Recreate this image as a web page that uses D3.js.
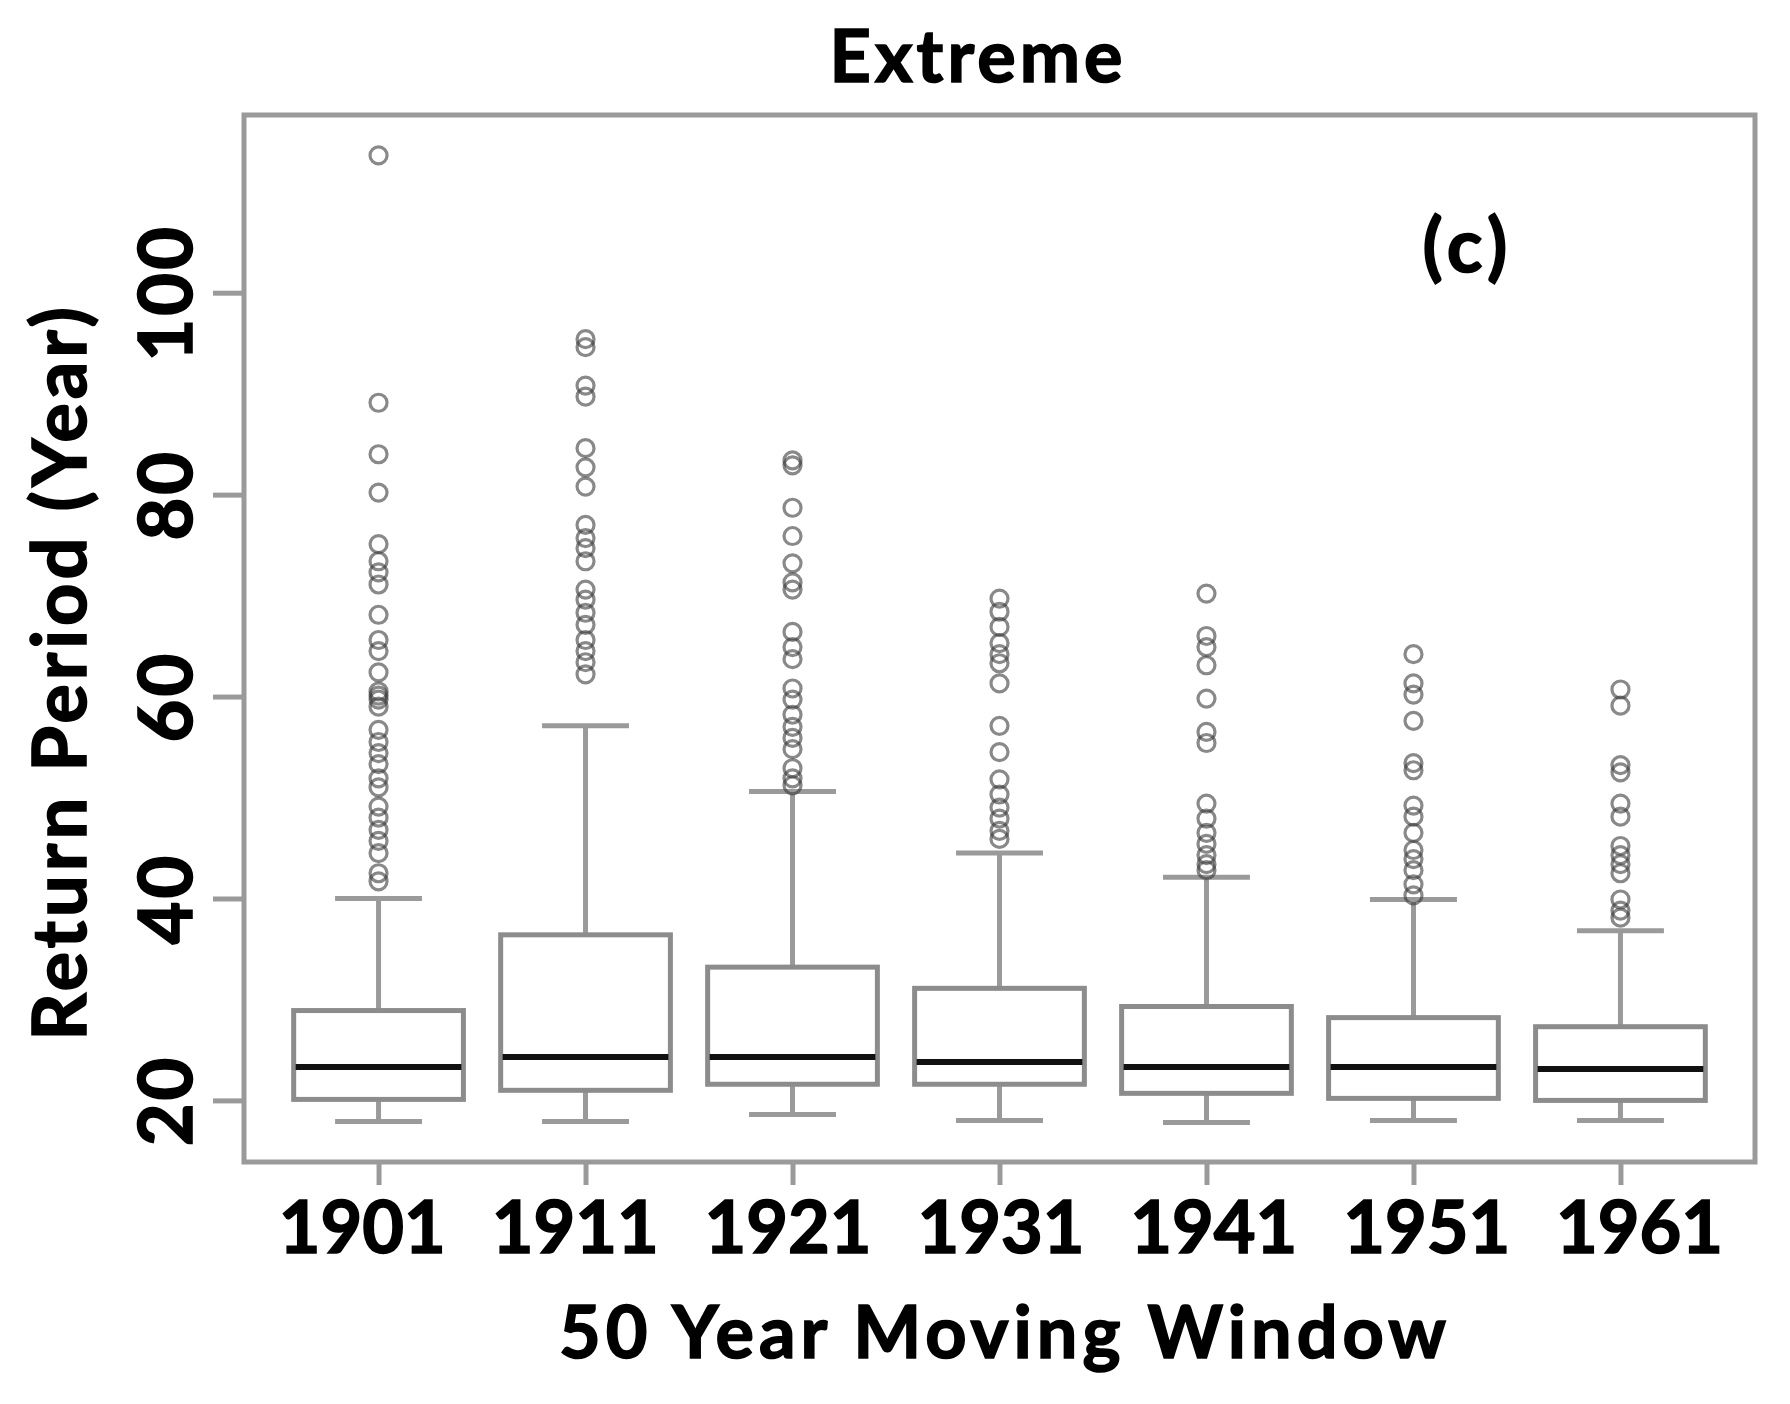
<!DOCTYPE html>
<html>
<head>
<meta charset="utf-8">
<script src="https://cdn.jsdelivr.net/npm/d3@7"></script>
<style>
  html, body { margin: 0; padding: 0; background: #fff; }
  svg text { font-family: Lato, "Open Sans", sans-serif; font-weight: 700; fill: #000; stroke: #000; stroke-width: 1.6px; }
</style>
</head>
<body>
<svg id="chart" width="1790" height="1404"></svg>
<script>
// 50-year moving windows (start year)
const windows = ['1901', '1911', '1921', '1931', '1941', '1951', '1961'];

// box statistics (return period, years)
const lowerWhisker = [17.9, 17.9, 18.6, 18.0, 17.8, 18.0, 18.0];
const q1 = [20.1, 21.0, 21.6, 21.6, 20.7, 20.2, 20.0];
const median = [23.3, 24.3, 24.3, 23.8, 23.3, 23.3, 23.1];
const q3 = [28.9, 36.4, 33.2, 31.1, 29.3, 28.2, 27.3];
const upperWhisker = [40.0, 57.1, 50.6, 44.5, 42.1, 39.9, 36.8];

// outliers per window
const outliers = [
    [113.6, 89.1, 84.0, 80.2, 75.1, 73.4, 72.3, 71.1, 68.1, 65.6, 64.5, 62.4, 60.5, 60.1, 59.7, 59.0,
     56.7, 55.5, 54.4, 53.3, 51.9, 51.0, 49.1, 48.0, 46.8, 45.7, 44.5, 42.5, 41.7],
    [95.4, 94.6, 90.8, 89.7, 84.6, 82.7, 80.8, 77.0, 75.7, 74.7, 73.4, 70.6, 69.6, 68.3, 67.1, 65.6,
     64.5, 63.4, 62.2],
    [83.4, 82.9, 78.7, 75.9, 73.2, 71.3, 70.6, 66.4, 64.9, 63.7, 60.8, 59.7, 58.2, 57.0, 55.9, 54.8,
     52.9, 51.9, 51.2],
    [69.7, 68.4, 66.9, 65.3, 64.2, 63.3, 61.3, 57.1, 54.5, 51.8, 50.3, 49.0, 47.9, 46.7, 45.9],
    [70.2, 66.0, 64.9, 63.1, 59.8, 56.5, 55.4, 49.4, 47.9, 46.5, 45.4, 44.3, 43.4, 42.8],
    [64.2, 61.3, 60.2, 57.6, 53.4, 52.7, 49.2, 48.1, 46.5, 44.8, 43.9, 42.8, 41.4, 40.3],
    [60.7, 59.1, 53.2, 52.5, 49.4, 48.1, 45.2, 44.3, 43.4, 42.5, 39.9, 38.8, 38.1]
];

const yTicks = [20, 40, 60, 80, 100];

const margin = { left: 244, right: 1755, top: 115, bottom: 1162 };
const grey = '#9a9a9a';
const boxGrey = '#8c8c8c';

const svg = d3.select('#chart');

const x = d3.scaleLinear().domain([0.35, 7.65]).range([margin.left, margin.right]);
const xLabel = d3.scaleLinear().domain([0.35, 7.65]).range([224, 1778]);
const y = d3.scaleLinear().domain([13.9, 117.6]).range([margin.bottom, margin.top]);

const boxes = windows.map((w, i) => ({
    name: w,
    pos: i + 1,
    lo: lowerWhisker[i],
    q1: q1[i],
    med: median[i],
    q3: q3[i],
    hi: upperWhisker[i],
    out: outliers[i]
}));

const unit = x(2) - x(1);
const boxW = unit * 0.82;
const capW = unit * 0.42;

// frame
svg.append('rect')
    .attr('x', margin.left)
    .attr('y', margin.top)
    .attr('width', margin.right - margin.left)
    .attr('height', margin.bottom - margin.top)
    .attr('fill', 'none')
    .attr('stroke', grey)
    .attr('stroke-width', 5);

// axes
const yAxis = svg.append('g')
    .attr('transform', `translate(${margin.left},0)`)
    .call(d3.axisLeft(y).tickValues(yTicks).tickSize(31).tickSizeOuter(0).tickFormat(''));
yAxis.select('.domain').remove();
yAxis.selectAll('line').attr('stroke', grey).attr('stroke-width', 5);

const xAxis = svg.append('g')
    .attr('transform', `translate(0,${margin.bottom})`)
    .call(d3.axisBottom(x).tickValues(boxes.map((d) => d.pos)).tickSize(23).tickSizeOuter(0).tickFormat(''));
xAxis.select('.domain').remove();
xAxis.selectAll('line').attr('stroke', grey).attr('stroke-width', 5);

// y tick labels (parallel to axis)
svg.append('g')
    .selectAll('text')
    .data(yTicks)
    .join('text')
    .attr('transform', (d) => `translate(192,${y(d)}) rotate(-90)`)
    .attr('text-anchor', 'middle')
    .attr('font-size', 74)
    .attr('letter-spacing', 3)
    .text((d) => d);

// x tick labels
svg.append('g')
    .selectAll('text')
    .data(boxes)
    .join('text')
    .attr('x', (d) => xLabel(d.pos))
    .attr('y', 1253)
    .attr('text-anchor', 'middle')
    .attr('font-size', 72)
    .text((d) => d.name);

// boxes
const g = svg.append('g')
    .selectAll('g')
    .data(boxes)
    .join('g');

// whiskers
g.append('line')
    .attr('x1', (d) => x(d.pos)).attr('x2', (d) => x(d.pos))
    .attr('y1', (d) => y(d.q3)).attr('y2', (d) => y(d.hi))
    .attr('stroke', grey).attr('stroke-width', 5);
g.append('line')
    .attr('x1', (d) => x(d.pos)).attr('x2', (d) => x(d.pos))
    .attr('y1', (d) => y(d.q1)).attr('y2', (d) => y(d.lo))
    .attr('stroke', grey).attr('stroke-width', 5);
// staples
g.append('line')
    .attr('x1', (d) => x(d.pos) - capW / 2).attr('x2', (d) => x(d.pos) + capW / 2)
    .attr('y1', (d) => y(d.hi)).attr('y2', (d) => y(d.hi))
    .attr('stroke', grey).attr('stroke-width', 5);
g.append('line')
    .attr('x1', (d) => x(d.pos) - capW / 2).attr('x2', (d) => x(d.pos) + capW / 2)
    .attr('y1', (d) => y(d.lo)).attr('y2', (d) => y(d.lo))
    .attr('stroke', grey).attr('stroke-width', 5);
// box
g.append('rect')
    .attr('x', (d) => x(d.pos) - boxW / 2)
    .attr('width', boxW)
    .attr('y', (d) => y(d.q3))
    .attr('height', (d) => y(d.q1) - y(d.q3))
    .attr('fill', '#fff')
    .attr('stroke', boxGrey)
    .attr('stroke-width', 5);
// median
g.append('line')
    .attr('x1', (d) => x(d.pos) - boxW / 2 + 2).attr('x2', (d) => x(d.pos) + boxW / 2 - 2)
    .attr('y1', (d) => y(d.med)).attr('y2', (d) => y(d.med))
    .attr('stroke', '#111').attr('stroke-width', 6);

// outliers
g.selectAll('circle')
    .data((d) => d.out.map((v) => ({ pos: d.pos, v })))
    .join('circle')
    .attr('cx', (d) => x(d.pos))
    .attr('cy', (d) => y(d.v))
    .attr('r', 8.5)
    .attr('fill', 'none')
    .attr('stroke', '#3a3a3a')
    .attr('stroke-opacity', 0.6)
    .attr('stroke-width', 3.2);

// titles
svg.append('text')
    .attr('x', 978).attr('y', 82)
    .attr('text-anchor', 'middle')
    .attr('font-size', 72)
    .attr('letter-spacing', 4)
    .text('Extreme');

svg.append('text')
    .attr('x', 1468).attr('y', 272)
    .attr('text-anchor', 'middle')
    .attr('font-size', 74)
    .attr('letter-spacing', 6)
    .text('(c)');

svg.append('text')
    .attr('x', 1005).attr('y', 1358)
    .attr('text-anchor', 'middle')
    .attr('font-size', 72)
    .attr('letter-spacing', 5)
    .text('50 Year Moving Window');

svg.append('text')
    .attr('transform', 'translate(86,672) rotate(-90)')
    .attr('text-anchor', 'middle')
    .attr('font-size', 74)
    .attr('letter-spacing', 4)
    .text('Return Period (Year)');
</script>
</body>
</html>
